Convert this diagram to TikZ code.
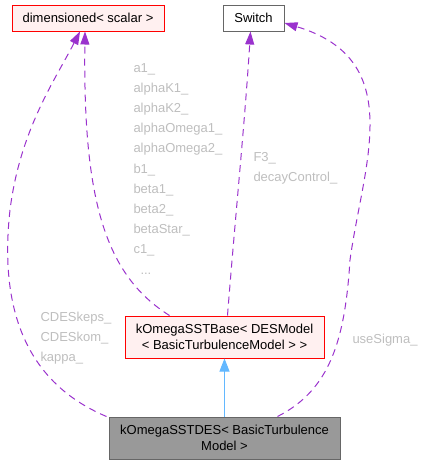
\documentclass[tikz,border=0pt]{standalone}
\usepackage{fontspec}
\setmainfont{Liberation Sans}
\usetikzlibrary{arrows.meta}
\definecolor{usesline}{HTML}{9A32CD}
\definecolor{inhblue}{HTML}{63B8FF}
\definecolor{lblgray}{HTML}{BEBEBE}
\definecolor{redfill}{HTML}{FFF0F0}
\definecolor{boxgray}{HTML}{666666}
\definecolor{desfill}{HTML}{999999}

\begin{document}
\begin{tikzpicture}[x=1pt, y=-1pt, line width=1pt,
	box/.style={draw, inner sep=0pt, align=center, font={\fontsize{13}{15.5}\selectfont}},
	redbox/.style={box, draw=red, fill=redfill},
	lbl/.style={inner sep=0pt, anchor=base west, text=lblgray, font={\fontsize{13}{15.5}\selectfont}},
	uses/.style={usesline, dash pattern=on 7pt off 5pt, -{Triangle[length=13pt, width=9pt]}},
	inherit/.style={inhblue, -{Triangle[length=13pt, width=10pt]}}]
		\useasboundingbox (0, 0) rectangle (426, 464);
		
		\node[redbox, minimum width=152, minimum height=26] (dim) at (88, 18) {dimensioned< scalar >};
		\node[box, draw=boxgray, fill=white, minimum width=61, minimum height=26] (switch) at (253.5, 18) {Switch};
		\node[redbox, minimum width=199, minimum height=42] (base) at (224.5, 337)
			{kOmegaSSTBase< DESModel\\< BasicTurbulenceModel > >};
		\node[box, draw=boxgray, fill=desfill, minimum width=231, minimum height=42] (des) at (224.5, 438)
			{kOmegaSSTDES< BasicTurbulence\\Model >};
		
		\draw[inherit] (des) -- (base);
		\draw[uses] ([xshift=-2pt]des.north west) .. controls (20, 380) and (0, 300) .. (10, 210)
			.. controls (20, 130) and (55, 80) .. ([xshift=-8pt]dim.south);
		\draw[uses] ([xshift=-55pt]base.north) .. controls (105, 275) and (83, 200) .. ([xshift=-3pt]dim.south);
		\draw[uses] ([xshift=3pt]base.north) .. controls (235, 220) and (245, 120) .. ([xshift=-3pt]switch.south);
		\draw[uses] ([xshift=53pt]des.north) .. controls (330, 390) and (345, 340) .. (350, 260)
			.. controls (363, 165) and (408, 60) .. ([yshift=-5pt]switch.east);
		
		\foreach \m [count=\i from 0] in {a1\_, alphaK1\_, alphaK2\_, alphaOmega1\_, alphaOmega2\_,
			b1\_, beta1\_, beta2\_, betaStar\_, c1\_}
			\node[lbl] (coef\i) at (133, 72+20.2*\i) {\m};
		\node[lbl] (coefmore) at (140, 274) {...};
		\node[lbl] (fthree) at (253, 161) {F3\_};
		\node[lbl] (decay) at (253, 181.2) {decayControl\_};
		\foreach \m [count=\i from 0] in {CDESkeps\_, CDESkom\_, kappa\_}
			\node[lbl] (des\i) at (40, 321+20.2*\i) {\m};
		\node[lbl] (sigma) at (352, 343) {useSigma\_};
\end{tikzpicture}
\end{document}
